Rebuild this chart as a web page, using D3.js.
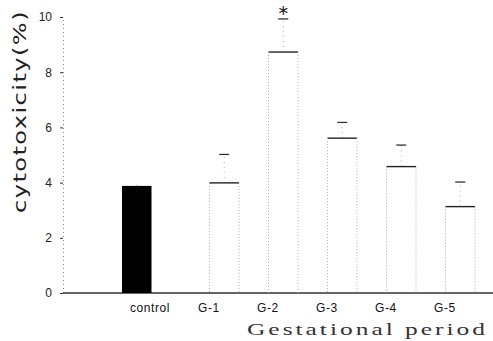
<!DOCTYPE html>
<html>
<head>
<meta charset="utf-8">
<script src="https://cdn.jsdelivr.net/npm/d3@7"></script>
<style>
  body { margin: 0; background: #fff; }
  svg { display: block; }
</style>
</head>
<body>
<div id="main"></div>
<script>
const W = 493, H = 341;

// data
const categories = ["control", "G-1", "G-2", "G-3", "G-4", "G-5"];
const means = [3.88, 3.99, 8.73, 5.61, 4.58, 3.13];
const errTops = [3.95, 5.02, 9.93, 6.18, 5.36, 4.02];
const significant = ["G-2"];
const yTicks = [0, 2, 4, 6, 8, 10];

const svg = d3.select("#main").append("svg")
    .attr("width", W)
    .attr("height", H);

// scales
const y = d3.scaleLinear().domain([0, 10]).range([293, 17]);
const x = d3.scalePoint().domain(categories).range([150, 445]);
const barW = 29.5;
// bars sit right of the label for G groups, left of it for control
function barX(c) {
    return c === "control" ? x(c) - 28 : x(c) + 0.5;
}

// y axis
const yAxis = d3.axisLeft(y).tickValues(yTicks).tickSize(3).tickPadding(8);
const gy = svg.append("g")
    .attr("transform", "translate(63,0)")
    .call(yAxis);
gy.select(".domain")
    .attr("stroke", "#888")
    .attr("stroke-dasharray", "1,3");
gy.selectAll(".tick line").attr("stroke", "#333");
gy.selectAll(".tick text")
    .attr("font-family", "Liberation Sans, Arial, sans-serif")
    .attr("font-size", 12)
    .attr("fill", "#222");

// baseline
svg.append("line")
    .attr("x1", 63).attr("x2", W)
    .attr("y1", y(0)).attr("y2", y(0))
    .attr("stroke", "#333")
    .attr("stroke-width", 1.3);

const data = categories.map((c, i) => ({ c: c, v: means[i], e: errTops[i] }));

// error bars
const eg = svg.append("g").attr("class", "errors");
eg.selectAll("line.stem")
    .data(data)
    .enter()
    .append("line")
    .attr("class", "stem")
    .attr("x1", d => barX(d.c) + barW / 2)
    .attr("x2", d => barX(d.c) + barW / 2)
    .attr("y1", d => y(d.v))
    .attr("y2", d => y(d.e))
    .attr("stroke", "#aaa")
    .attr("stroke-dasharray", "1,4");
eg.selectAll("line.cap")
    .data(data.filter(d => d.c !== "control"))
    .enter()
    .append("line")
    .attr("class", "cap")
    .attr("x1", d => barX(d.c) + barW / 2 - 5)
    .attr("x2", d => barX(d.c) + barW / 2 + 5)
    .attr("y1", d => y(d.e))
    .attr("y2", d => y(d.e))
    .attr("stroke", "#333")
    .attr("stroke-width", 1.3);

// bars
const bg = svg.append("g").attr("class", "bars");
bg.selectAll("rect")
    .data(data)
    .enter()
    .append("rect")
    .attr("x", d => barX(d.c))
    .attr("y", d => y(d.v))
    .attr("width", barW)
    .attr("height", d => y(0) - y(d.v))
    .attr("fill", d => d.c === "control" ? "#000" : "none");

// open bars: solid top, faint dotted sides
const open = data.filter(d => d.c !== "control");
bg.selectAll("line.top")
    .data(open)
    .enter()
    .append("line")
    .attr("class", "top")
    .attr("x1", d => barX(d.c))
    .attr("x2", d => barX(d.c) + barW)
    .attr("y1", d => y(d.v))
    .attr("y2", d => y(d.v))
    .attr("stroke", "#222")
    .attr("stroke-width", 1.4);
["left", "right"].forEach(function (side) {
    bg.selectAll("line." + side)
        .data(open)
        .enter()
        .append("line")
        .attr("class", side)
        .attr("x1", d => barX(d.c) + (side === "left" ? 0 : barW))
        .attr("x2", d => barX(d.c) + (side === "left" ? 0 : barW))
        .attr("y1", d => y(d.v))
        .attr("y2", y(0))
        .attr("stroke", "#aaa")
        .attr("stroke-dasharray", "1,2");
});

// significance mark
svg.selectAll("text.star")
    .data(data.filter(d => significant.includes(d.c)))
    .enter()
    .append("text")
    .attr("class", "star")
    .attr("x", d => barX(d.c) + barW / 2)
    .attr("y", d => y(d.e) + 1)
    .attr("text-anchor", "middle")
    .attr("font-family", "DejaVu Sans, sans-serif")
    .attr("font-size", 19)
    .attr("fill", "#111")
    .text("*");

// category labels
svg.append("g")
    .selectAll("text")
    .data(categories)
    .enter()
    .append("text")
    .attr("x", d => x(d))
    .attr("y", 312)
    .attr("text-anchor", "middle")
    .attr("font-family", "Liberation Sans, Arial, sans-serif")
    .attr("font-size", 12)
    .attr("letter-spacing", 0.6)
    .attr("fill", "#111")
    .text(d => d);

// axis titles
svg.append("text")
    .attr("x", 247)
    .attr("y", 335)
    .attr("textLength", 241)
    .attr("lengthAdjust", "spacingAndGlyphs")
    .attr("font-family", "Liberation Serif, serif")
    .attr("font-size", 17)
    .attr("letter-spacing", 2)
    .attr("fill", "#333")
    .text("Gestational period");

svg.append("text")
    .attr("transform", "translate(26,213) rotate(-90)")
    .attr("textLength", 203)
    .attr("lengthAdjust", "spacingAndGlyphs")
    .attr("font-family", "DejaVu Sans, sans-serif")
    .attr("font-size", 17)
    .attr("letter-spacing", 1)
    .attr("fill", "#222")
    .text("cytotoxicity(%)");
</script>
</body>
</html>
